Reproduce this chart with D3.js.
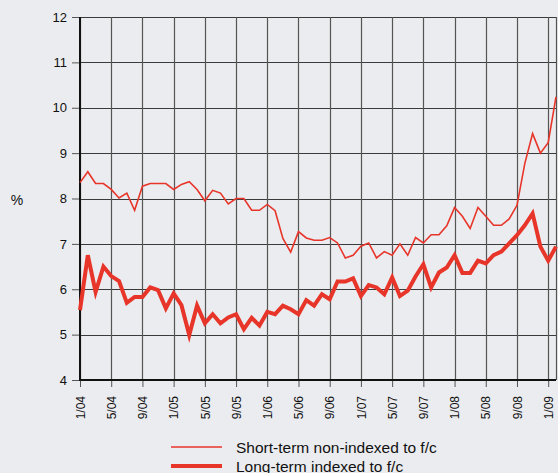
<!DOCTYPE html>
<html>
<head>
<meta charset="utf-8">
<script src="https://cdn.jsdelivr.net/npm/d3@7"></script>
<style>
  body { margin: 0; background: #ebecef; }
  svg { display: block; font-family: "Liberation Sans", Arial, sans-serif; }
</style>
</head>
<body>
<div id="chart"></div>
<script>
// monthly rates, 1/04 .. 2/09
const shortTerm = [8.35, 8.59, 8.33, 8.33, 8.2, 8.01, 8.12, 7.74, 8.27, 8.33,
    8.33, 8.33, 8.2, 8.31, 8.37, 8.2, 7.95, 8.18, 8.12, 7.88,
    8.0, 8.0, 7.74, 7.74, 7.87, 7.73, 7.12, 6.82, 7.27, 7.13,
    7.08, 7.08, 7.14, 7.02, 6.69, 6.75, 6.95, 7.02, 6.69, 6.83,
    6.75, 7.0, 6.75, 7.14, 7.02, 7.2, 7.2, 7.4, 7.8, 7.61,
    7.34, 7.8, 7.61, 7.41, 7.41, 7.55, 7.85, 8.77, 9.43, 9.0,
    9.23, 10.24];
const longTerm = [5.54, 6.75, 5.94, 6.5, 6.29, 6.18, 5.7, 5.83, 5.83, 6.04,
    5.98, 5.58, 5.91, 5.65, 4.99, 5.64, 5.25, 5.45, 5.25, 5.38,
    5.45, 5.12, 5.37, 5.2, 5.5, 5.45, 5.64, 5.56, 5.45, 5.76,
    5.64, 5.89, 5.78, 6.17, 6.17, 6.24, 5.85, 6.09, 6.04, 5.89,
    6.26, 5.85, 5.97, 6.28, 6.55, 6.04, 6.37, 6.48, 6.75, 6.36,
    6.36, 6.63, 6.57, 6.75, 6.83, 7.01, 7.19, 7.41, 7.67, 6.94,
    6.63, 6.94];
const tickLabels = ["1/04", "5/04", "9/04", "1/05", "5/05", "9/05", "1/06", "5/06",
    "9/06", "1/07", "5/07", "9/07", "1/08", "5/08", "9/08", "1/09"];
const yTicks = [4, 5, 6, 7, 8, 9, 10, 11, 12];
const seriesNames = ["Short-term non-indexed to f/c", "Long-term indexed to f/c"];

const W = 558, H = 473;
const margin = { top: 17, right: 2, bottom: 93, left: 80 };
const width = W - margin.left - margin.right;
const height = H - margin.top - margin.bottom;
const red = "#e8352a";

const svg = d3.select("#chart").append("svg")
    .attr("width", W)
    .attr("height", H);

const g = svg.append("g")
    .attr("transform", `translate(${margin.left}, ${margin.top})`);

const x = d3.scaleLinear()
    .domain([0, shortTerm.length - 1])
    .range([0, width]);

const y = d3.scaleLinear()
    .domain([4, 12])
    .range([height, 0]);

const tickIdx = tickLabels.map((d, i) => i * 4);

// grid
g.append("g").selectAll("line")
    .data(yTicks)
    .join("line")
    .attr("x1", 0).attr("x2", width)
    .attr("y1", d => Math.round(y(d)) + 0.5).attr("y2", d => Math.round(y(d)) + 0.5)
    .attr("stroke", "#3a3a3a")
    .attr("stroke-width", 1);

g.append("g").selectAll("line")
    .data(tickIdx.concat([shortTerm.length - 1]))
    .join("line")
    .attr("x1", d => Math.round(x(d)) + 0.5).attr("x2", d => Math.round(x(d)) + 0.5)
    .attr("y1", 0).attr("y2", height)
    .attr("stroke", "#555")
    .attr("stroke-width", 1.2);

// axes
const yAxis = g.append("g")
    .call(d3.axisLeft(y).tickValues(yTicks).tickSize(8).tickPadding(5));
yAxis.select(".domain").remove();
yAxis.selectAll(".tick line").attr("stroke", "#555");
yAxis.selectAll("text").attr("font-size", 13).attr("fill", "#111").attr("font-family", null);

const xAxis = g.append("g")
    .attr("transform", `translate(0, ${height})`)
    .call(d3.axisBottom(x).tickValues(tickIdx).tickSize(7)
        .tickFormat((d, i) => tickLabels[i]));
xAxis.select(".domain").remove();
xAxis.selectAll(".tick line").attr("stroke", "#555");
xAxis.selectAll("text")
    .attr("font-size", 12)
    .attr("fill", "#111")
    .attr("font-family", null)
    .attr("transform", "rotate(-90)")
    .attr("text-anchor", "end")
    .attr("dy", "0.35em")
    .attr("x", -16)
    .attr("y", 0);

g.append("line")
    .attr("x1", 0).attr("x2", 0).attr("y1", 0).attr("y2", height + 1)
    .attr("stroke", "#111").attr("stroke-width", 2);
g.append("line")
    .attr("x1", 0).attr("x2", width).attr("y1", height).attr("y2", height)
    .attr("stroke", "#111").attr("stroke-width", 2);

svg.append("text")
    .attr("x", 17).attr("y", 205)
    .attr("font-size", 14)
    .attr("fill", "#111")
    .attr("text-anchor", "middle")
    .text("%");

// lines
const line = d3.line()
    .x((d, i) => x(i))
    .y(d => y(d));

g.append("path")
    .datum(shortTerm)
    .attr("fill", "none")
    .attr("stroke", red)
    .attr("stroke-width", 1.6)
    .attr("stroke-linejoin", "miter")
    .attr("d", line);

g.append("path")
    .datum(longTerm)
    .attr("fill", "none")
    .attr("stroke", red)
    .attr("stroke-width", 4)
    .attr("stroke-linejoin", "miter")
    .attr("d", line);

// legend
const legend = svg.append("g");
[1.6, 4].forEach((sw, i) => {
    const ly = 447 + i * 19;
    legend.append("line")
        .attr("x1", 171).attr("x2", 222)
        .attr("y1", ly).attr("y2", ly)
        .attr("stroke", red)
        .attr("stroke-width", sw);
    legend.append("text")
        .attr("x", 236).attr("y", ly + 5.5)
        .attr("font-size", 15.5)
        .attr("fill", "#111")
        .text(seriesNames[i]);
});
</script>
</body>
</html>
